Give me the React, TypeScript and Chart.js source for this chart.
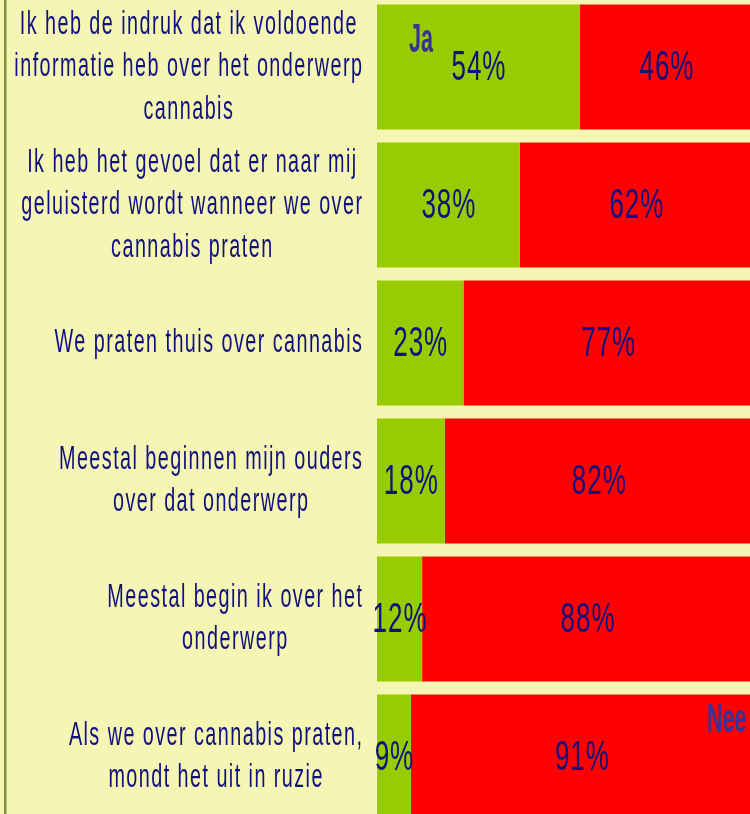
import React, { useEffect, useRef } from "react";
import { Chart, registerables } from "chart.js";

Chart.register(...registerables);

const categories: string[][] = [
  ["Ik heb de indruk dat ik voldoende", "informatie heb over het onderwerp", "cannabis"],
  ["Ik heb het gevoel dat er naar mij", "geluisterd wordt wanneer we over", "cannabis praten"],
  ["We praten thuis over cannabis"],
  ["Meestal beginnen mijn ouders", "over dat onderwerp"],
  ["Meestal begin ik over het", "onderwerp"],
  ["Als we over cannabis praten,", "mondt het uit in ruzie"],
];
const jaValues = [54, 38, 23, 18, 12, 9];
const neeValues = [46, 62, 77, 82, 88, 91];
const seriesNames = ["Ja", "Nee"];

const BG = "#F5F6B4";
const GREEN = "#99CC00";
const RED = "#FF0000";
const NAVY = "#10107F";
const SERIES_COLOR = "#333399";
const FONT = "'Liberation Sans', Arial, sans-serif";

function drawScaled(
  ctx: CanvasRenderingContext2D,
  text: string,
  x: number,
  y: number,
  font: string,
  sx: number,
  align: CanvasTextAlign,
  baseline: CanvasTextBaseline,
  color: string,
  spacing = 0
) {
  ctx.save();
  ctx.translate(x, y);
  ctx.scale(sx, 1);
  ctx.font = font;
  (ctx as any).letterSpacing = `${spacing}px`;
  ctx.textAlign = align;
  ctx.textBaseline = baseline;
  ctx.fillStyle = color;
  const off = align === "center" ? spacing / 2 : 0;
  ctx.fillText(text, off, 0);
  ctx.restore();
}

const bgPlugin = {
  id: "bgPlugin",
  beforeDraw(chart: any) {
    const ctx = chart.ctx as CanvasRenderingContext2D;
    ctx.save();
    ctx.fillStyle = BG;
    ctx.fillRect(0, 0, chart.width, chart.height);
    ctx.fillStyle = "#7F9040";
    ctx.fillRect(4, 0, 2.5, chart.height);
    ctx.restore();
  },
};

const textPlugin = {
  id: "textPlugin",
  afterDatasetsDraw(chart: any) {
    const ctx = chart.ctx as CanvasRenderingContext2D;
    const yScale = chart.scales.y;
    const labelFont = `33px ${FONT}`;
    const labelSx = 0.6;
    const labelSp = 2.4;
    const lineH = 42.5;
    const blockRight = 362;
    categories.forEach((lines, i) => {
      const cy = yScale.getPixelForValue(i);
      ctx.save();
      ctx.font = labelFont;
      (ctx as any).letterSpacing = `${labelSp}px`;
      const widths = lines.map((l) => (ctx.measureText(l).width - labelSp) * labelSx);
      ctx.restore();
      const blockW = Math.max(...widths);
      const cx = blockRight - blockW / 2;
      lines.forEach((l, j) => {
        const y = cy + (j - (lines.length - 1) / 2) * lineH;
        drawScaled(ctx, l, cx, y, labelFont, labelSx, "center", "middle", NAVY, labelSp);
      });
    });
    const valFont = `42px ${FONT}`;
    [0, 1].forEach((d) => {
      const meta = chart.getDatasetMeta(d);
      const vals = d === 0 ? jaValues : neeValues;
      meta.data.forEach((el: any, i: number) => {
        const p = el.getProps(["x", "y", "base"], true);
        const cx = (p.x + p.base) / 2;
        drawScaled(ctx, `${vals[i]}%`, cx, p.y + 1, valFont, 0.62, "center", "middle", NAVY, 1.5);
      });
    });
    const serFont = `bold 40px ${FONT}`;
    const first = chart.getDatasetMeta(0).data[0].getProps(["x", "y", "base", "height"], true);
    drawScaled(ctx, seriesNames[0], first.base + 32, first.y - first.height / 2 + 47, serFont, 0.54, "left", "alphabetic", SERIES_COLOR);
    const lastMeta = chart.getDatasetMeta(1).data;
    const last = lastMeta[lastMeta.length - 1].getProps(["x", "y", "base", "height"], true);
    drawScaled(ctx, seriesNames[1], last.x - 46, last.y - last.height / 2 + 37.5, serFont, 0.54, "left", "alphabetic", SERIES_COLOR);
  },
};

export default function App() {
  const ref = useRef<HTMLCanvasElement | null>(null);
  useEffect(() => {
    if (!ref.current) return;
    const chart = new Chart(ref.current, {
      type: "bar",
      data: {
        labels: categories,
        datasets: [
          {
            label: seriesNames[0],
            data: jaValues,
            backgroundColor: GREEN,
            borderWidth: 0,
            barPercentage: 0.905,
            categoryPercentage: 1,
          },
          {
            label: seriesNames[1],
            data: neeValues,
            backgroundColor: RED,
            borderWidth: 0,
            barPercentage: 0.905,
            categoryPercentage: 1,
          },
        ],
      },
      options: {
        indexAxis: "y",
        animation: false,
        responsive: true,
        maintainAspectRatio: false,
        layout: { padding: 0 },
        plugins: {
          legend: { display: false },
          tooltip: { enabled: false },
        },
        scales: {
          x: {
            stacked: true,
            min: 0,
            max: 100,
            display: false,
          },
          y: {
            stacked: true,
            grid: { display: false },
            border: { display: false },
            ticks: { display: false },
            afterFit: (scale: any) => {
              scale.width = 377;
            },
          },
        },
      },
      plugins: [bgPlugin, textPlugin],
    });
    return () => chart.destroy();
  }, []);
  return (
    <div
      style={{
        position: "fixed",
        left: 0,
        top: -2,
        width: 753,
        height: 828,
        background: BG,
      }}
    >
      <canvas ref={ref} />
    </div>
  );
}
